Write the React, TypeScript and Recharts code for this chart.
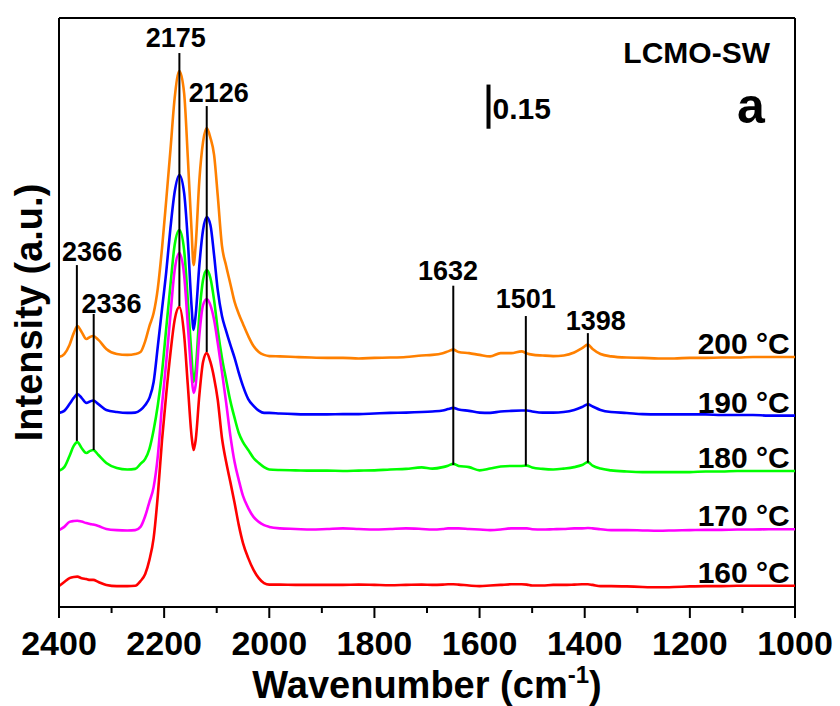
import React from 'react';
import { ComposedChart, Line, XAxis, YAxis, ReferenceLine, ReferenceDot } from 'recharts';

// Wavenumber grid (cm-1)
const wavenumbers = [
  2400, 2390, 2380, 2372, 2365, 2357, 2348, 2341, 2335, 2325,
  2310, 2290, 2270, 2255, 2245, 2236, 2228, 2220, 2212, 2204,
  2196, 2188, 2180, 2171, 2162, 2155, 2148, 2144, 2140, 2133,
  2126, 2119, 2112, 2105, 2098, 2090, 2082, 2074, 2066, 2058,
  2050, 2040, 2030, 2020, 2010, 2000,
  1980, 1950, 1920, 1890, 1860, 1830, 1800, 1770, 1740, 1710,
  1690, 1670, 1660, 1650, 1640, 1620, 1600, 1580, 1560, 1540,
  1520, 1510, 1500, 1480, 1460, 1440, 1420, 1405, 1394, 1385,
  1370, 1350, 1320, 1290, 1260, 1230, 1200, 1170, 1140, 1110,
  1080, 1050, 1020, 1000,
];

// Offset spectra (intensity, a.u.)
const s200 = [
  0.849, 0.859, 0.890, 0.930, 0.954, 0.934, 0.910, 0.917, 0.920, 0.907,
  0.876, 0.859, 0.856, 0.859, 0.866, 0.903, 0.954, 0.998, 1.083, 1.219,
  1.382, 1.552, 1.728, 1.820, 1.745, 1.528, 1.284, 1.161, 1.229, 1.450,
  1.579, 1.626, 1.593, 1.535, 1.396, 1.226, 1.158, 1.097, 1.036, 0.995,
  0.961, 0.920, 0.886, 0.866, 0.856, 0.852,
  0.851, 0.849, 0.847, 0.846, 0.846, 0.844, 0.846, 0.847, 0.849, 0.854,
  0.856, 0.862, 0.868, 0.874, 0.866, 0.862, 0.856, 0.851, 0.862, 0.862,
  0.868, 0.861, 0.857, 0.854, 0.852, 0.854, 0.864, 0.879, 0.891, 0.876,
  0.859, 0.851, 0.847, 0.846, 0.844, 0.844, 0.846, 0.846, 0.847, 0.847,
  0.849, 0.849, 0.849, 0.849,
];
const s190 = [
  0.659, 0.666, 0.689, 0.710, 0.723, 0.710, 0.693, 0.698, 0.701, 0.689,
  0.669, 0.662, 0.659, 0.660, 0.669, 0.686, 0.710, 0.764, 0.886, 1.012,
  1.138, 1.287, 1.409, 1.467, 1.406, 1.246, 1.025, 0.941, 0.992, 1.161,
  1.280, 1.324, 1.297, 1.195, 1.076, 0.988, 0.937, 0.890, 0.846, 0.795,
  0.750, 0.706, 0.683, 0.667, 0.659, 0.659,
  0.657, 0.655, 0.654, 0.654, 0.655, 0.655, 0.657, 0.659, 0.660, 0.662,
  0.664, 0.667, 0.672, 0.676, 0.671, 0.666, 0.660, 0.659, 0.664, 0.666,
  0.667, 0.667, 0.664, 0.660, 0.660, 0.662, 0.669, 0.679, 0.688, 0.681,
  0.669, 0.662, 0.659, 0.655, 0.654, 0.654, 0.654, 0.654, 0.652, 0.652,
  0.652, 0.650, 0.650, 0.650,
];
const s180 = [
  0.463, 0.475, 0.513, 0.547, 0.560, 0.540, 0.523, 0.530, 0.533, 0.516,
  0.489, 0.472, 0.467, 0.469, 0.486, 0.503, 0.537, 0.601, 0.686, 0.798,
  0.947, 1.093, 1.229, 1.280, 1.212, 1.042, 0.856, 0.764, 0.805, 0.992,
  1.110, 1.144, 1.117, 1.042, 0.941, 0.846, 0.771, 0.699, 0.642, 0.591,
  0.560, 0.533, 0.506, 0.489, 0.475, 0.467,
  0.465, 0.464, 0.463, 0.463, 0.462, 0.463, 0.464, 0.467, 0.469, 0.474,
  0.470, 0.475, 0.480, 0.486, 0.479, 0.475, 0.464, 0.470, 0.477, 0.479,
  0.479, 0.480, 0.474, 0.469, 0.467, 0.470, 0.475, 0.482, 0.492, 0.480,
  0.470, 0.464, 0.460, 0.458, 0.458, 0.458, 0.458, 0.460, 0.460, 0.462,
  0.462, 0.462, 0.462, 0.462,
];
const s170 = [
  0.261, 0.272, 0.289, 0.292, 0.293, 0.290, 0.285, 0.282, 0.280, 0.275,
  0.265, 0.261, 0.260, 0.261, 0.272, 0.309, 0.357, 0.407, 0.513, 0.686,
  0.832, 0.992, 1.144, 1.202, 1.127, 0.958, 0.788, 0.727, 0.754, 0.924,
  1.025, 1.046, 1.025, 0.975, 0.896, 0.798, 0.693, 0.581, 0.492, 0.431,
  0.377, 0.336, 0.306, 0.289, 0.278, 0.272,
  0.267, 0.265, 0.263, 0.265, 0.267, 0.265, 0.263, 0.265, 0.267, 0.265,
  0.263, 0.265, 0.267, 0.267, 0.267, 0.265, 0.263, 0.261, 0.263, 0.267,
  0.267, 0.267, 0.264, 0.263, 0.264, 0.265, 0.267, 0.267, 0.268, 0.267,
  0.264, 0.261, 0.261, 0.260, 0.259, 0.260, 0.261, 0.262, 0.262, 0.263,
  0.263, 0.264, 0.264, 0.264,
];
const s160 = [
  0.071, 0.085, 0.098, 0.102, 0.103, 0.098, 0.095, 0.092, 0.092, 0.085,
  0.075, 0.071, 0.071, 0.072, 0.088, 0.112, 0.160, 0.234, 0.380, 0.567,
  0.723, 0.862, 0.975, 1.019, 0.924, 0.754, 0.584, 0.533, 0.567, 0.720,
  0.832, 0.862, 0.832, 0.778, 0.703, 0.574, 0.492, 0.424, 0.353, 0.278,
  0.217, 0.166, 0.126, 0.098, 0.081, 0.076,
  0.076, 0.075, 0.075, 0.075, 0.075, 0.076, 0.075, 0.074, 0.075, 0.076,
  0.075, 0.076, 0.077, 0.077, 0.076, 0.073, 0.071, 0.073, 0.075, 0.077,
  0.077, 0.076, 0.073, 0.073, 0.075, 0.075, 0.076, 0.077, 0.077, 0.075,
  0.071, 0.071, 0.070, 0.068, 0.067, 0.068, 0.070, 0.071, 0.071, 0.072,
  0.072, 0.072, 0.072, 0.072,
];

const seriesKeys = ['t200', 't190', 't180', 't170', 't160'];
const seriesNames = ['200 °C', '190 °C', '180 °C', '170 °C', '160 °C'];
const seriesValues = [s200, s190, s180, s170, s160];
const seriesColors = ['#FF8000', '#0000FF', '#00FF00', '#FF00FF', '#FF0000'];

const xTicks = [2400, 2300, 2200, 2100, 2000, 1900, 1800, 1700, 1600, 1500, 1400, 1300, 1200, 1100, 1000];

// Peak annotations
const peakNames = ['2366', '2336', '2175', '2126', '1632', '1501', '1398'];
const peakLineW = [2366, 2334, 2171, 2119, 1650, 1512, 1394];
const peakLineTop = [1.161, 0.995, 1.881, 1.701, 1.091, 0.988, 0.930];
const peakLineBottom = [0.564, 0.533, 1.022, 0.866, 0.482, 0.480, 0.490];
const peakLabelW = [2337, 2300, 2178, 2096, 1660, 1512, 1379];
const peakLabelV = [1.175, 0.998, 1.903, 1.716, 1.110, 1.015, 0.941];

// Scale bar
const scaleBarW = 1583;
const scaleBarBase = 1.624;
const scaleBarSpan = 0.15;
const scaleBarText = '0.15';

const panelTitle = 'LCMO-SW';
const panelTitleW = 1187;
const panelTitleV = 1.848;
const panelLetter = 'a';
const panelLetterW = 1084;
const panelLetterV = 1.643;

const tempLabelW = 1010;

const data = wavenumbers.map((w, i) => {
  const row: Record<string, number> = { w };
  seriesKeys.forEach((k, j) => {
    row[k] = seriesValues[j][i];
  });
  return row;
});

const FONT = '"Liberation Sans", Arial, Helvetica, sans-serif';

const AxisTick = (props: any) => {
  const { x, y, payload } = props;
  const major = payload.value % 200 === 0;
  return (
    <g>
      <line x1={x} y1={y} x2={x} y2={y + (major ? 11 : 6)} stroke="#000" strokeWidth={2} />
      {major && (
        <text x={x} y={y + 48} textAnchor="middle" fontSize={34} fontWeight="bold" fontFamily={FONT} fill="#000">
          {payload.value}
        </text>
      )}
    </g>
  );
};

const YTitle = (props: any) => {
  const vb = props.viewBox || { x: 49, y: 18, width: 10, height: 589 };
  const cx = vb.x - 7;
  const cy = vb.y + vb.height / 2;
  return (
    <text x={cx} y={cy} transform={`rotate(-90 ${cx} ${cy})`} textAnchor="middle" fontSize={38} fontWeight="bold" fontFamily={FONT} fill="#000">
      Intensity (a.u.)
    </text>
  );
};

const XTitle = (props: any) => {
  const vb = props.viewBox || { x: 59, y: 607, width: 736, height: 60 };
  const cx = vb.x + vb.width / 2;
  const by = vb.y + 91;
  return (
    <text x={cx} y={by} textAnchor="middle" fontSize={38} fontWeight="bold" fontFamily={FONT} fill="#000">
      Wavenumber (cm
      <tspan dy={-15} fontSize={24}>-1</tspan>
      <tspan dy={15}>)</tspan>
    </text>
  );
};

const textShape = (label: string, size: number, anchor: string, dx = 0, dy = 0) => (p: any) => (
  <text x={p.cx + dx} y={p.cy + dy} textAnchor={anchor} fontSize={size} fontWeight="bold" fontFamily={FONT} fill="#000">
    {label}
  </text>
);

export default function App() {
  return (
    <div style={{ position: 'absolute', left: 0, top: 0, width: 840, height: 706, background: '#fff' }}>
      <ComposedChart width={840} height={706} data={data} margin={{ top: 18, right: 45, bottom: 39, left: 49 }}>
        <XAxis
          dataKey="w"
          type="number"
          domain={[1000, 2400]}
          reversed
          ticks={xTicks}
          interval={0}
          tick={<AxisTick />}
          tickLine={false}
          tickSize={0}
          tickMargin={0}
          height={60}
          axisLine={{ stroke: '#000', strokeWidth: 2 }}
          label={<XTitle />}
          allowDataOverflow
        />
        <YAxis
          type="number"
          domain={[0, 2]}
          tick={false}
          tickLine={false}
          width={10}
          axisLine={{ stroke: '#000', strokeWidth: 2 }}
          label={<YTitle />}
          allowDataOverflow
        />
        <ReferenceLine y={2} stroke="#000" strokeWidth={2} />
        <ReferenceLine x={1000} stroke="#000" strokeWidth={2} />
        {seriesKeys.map((k, j) => (
          <Line
            key={k}
            dataKey={k}
            name={seriesNames[j]}
            type="monotone"
            stroke={seriesColors[j]}
            strokeWidth={2.6}
            dot={false}
            isAnimationActive={false}
          />
        ))}
        {peakNames.map((n, i) => (
          <ReferenceLine
            key={'pl' + n}
            segment={[
              { x: peakLineW[i], y: peakLineBottom[i] },
              { x: peakLineW[i], y: peakLineTop[i] },
            ]}
            stroke="#000"
            strokeWidth={2}
          />
        ))}
        {peakNames.map((n, i) => (
          <ReferenceDot key={'pt' + n} x={peakLabelW[i]} y={peakLabelV[i]} r={0} shape={textShape(n, 27, 'middle')} />
        ))}
        {seriesNames.map((n, j) => (
          <ReferenceDot
            key={'tl' + n}
            x={tempLabelW}
            y={seriesValues[j][seriesValues[j].length - 1]}
            r={0}
            shape={textShape(n, 30, 'end', 0, -3)}
          />
        ))}
        <ReferenceLine
          segment={[
            { x: scaleBarW, y: scaleBarBase },
            { x: scaleBarW, y: scaleBarBase + scaleBarSpan },
          ]}
          stroke="#000"
          strokeWidth={4}
        />
        <ReferenceDot x={scaleBarW} y={scaleBarBase} r={0} shape={textShape(scaleBarText, 30, 'start', 4, -10)} />
        <ReferenceDot x={panelTitleW} y={panelTitleV} r={0} shape={textShape(panelTitle, 30, 'middle')} />
        <ReferenceDot x={panelLetterW} y={panelLetterV} r={0} shape={textShape(panelLetter, 50, 'middle')} />
      </ComposedChart>
    </div>
  );
}
